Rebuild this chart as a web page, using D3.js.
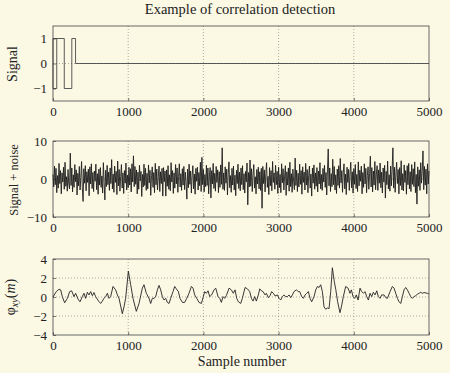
<!DOCTYPE html>
<html>
<head>
<meta charset="utf-8">
<script src="https://cdn.jsdelivr.net/npm/d3@7"></script>
<style>
  body { margin: 0; background: #fbf8e6; }
  svg { display: block; }
  text { font-family: "Liberation Serif", "DejaVu Serif", serif; fill: #222; }
</style>
</head>
<body>
<div id="chart"></div>
<script>
// x ticks shared by all three panels
let xTicks = [0, 1000, 2000, 3000, 4000, 5000];

// panel 1: transmitted signal (corner points of the pulse train)
let sigT = [50, 50, 0, 0, 150, 150, 250, 250, 300, 300, 5000];
let sigV = [1, -1, -1, 1, 1, -1, -1, 1, 1, 0, 0];

// panel 2: signal + noise, one value read every 10 samples
let noiseStep = 10;
let noiseV = [
  1.2, -2.1, 3.4, -1.5, 2.8, -3.6, 0.9, -2.4, 4.1, -1.2, 2.2, -3.9, 1.6, -0.8, 3.1, -2.7, 4.4, -1.9, 0.6, -3.2, 2.5, -1.4, -2.6, 6.8, -1.7,
  2.9, -3.4, 1.1, -2.2, 3.8, -0.7, 2.4, -4.2, 1.5, -1.8, 3.3, -2.9, 0.4, 4.6, -2.3, -5.9, 2.7, -1.1, 3.5, -3.1, 1.9, -0.9, 2.6, -4.4, 3.2,
  -1.3, 4.0, -2.5, 1.7, -3.3, 2.1, -0.6, 3.9, -2.8, 1.4, -4.0, 2.6, -1.6, 3.0, -2.2, 0.8, -3.7, 4.3, -1.0, -5.5, 2.3, -2.0, 3.6, -1.5, 1.8,
  -3.0, 2.9, -1.2, 5.1, -2.6, 1.3, -3.5, 3.4, -0.9, 2.0, -4.1, 4.7, -1.8, 2.5, -3.2, 0.7, 3.8, -2.4, 1.6, -3.8, 2.2, -1.1, 4.2, -2.9, 1.0,
  -2.3, 3.1, -1.6, 2.7, -3.4, 4.0, -0.8, 6.1, -2.0, 3.3, -1.4, 2.4, -3.9, 1.8, -2.7, 3.6, -0.5, 2.0, -4.6, 1.2, -2.1, 3.9, -1.7, 2.8, -3.0,
  1.5, -2.6, 3.7, -1.0, 2.3, -4.3, 0.9, 3.2, -2.2, 1.7, -3.6, 4.1, -1.5, 2.6, -2.9, 0.6, 3.4, -3.3, 1.9, -1.2, 2.8, -4.5, 3.0, -0.7, 2.1,
  -4.5, 2.4, -1.9, 3.5, -2.7, 1.1, -3.1, 4.3, -0.8, 2.2, -3.8, 1.6, -2.4, 3.8, -1.3, 2.9, -3.5, 0.7, 4.0, -2.1, 1.4, -3.0, 2.7, -1.6, 3.3,
  -2.8, 1.8, -1.0, -5.3, 2.6, -2.3, 3.9, -1.4, 2.1, -3.7, 0.9, 3.5, -2.6, 1.3, -4.0, 2.8, -0.6, 3.1, -2.9, 1.7, -1.8, 4.4, -3.3, 5.7, -1.5,
  2.5, -3.4, 1.2, -2.0, 3.6, -1.7, 2.9, -3.9, 0.8, 3.0, -5.0, 2.2, -1.3, 4.1, -2.5, 1.5, -3.2, 3.3, -0.9, 2.4, -3.6, 1.9, -2.2, 3.7, -1.4,
  8.2, -2.7, 1.6, -3.0, 3.2, -1.1, 2.6, -4.2, 1.3, 4.5, -2.3, 0.9, -3.5, 2.8, -1.6, 3.4, -2.9, 1.0, -4.4, 2.3, -1.2, 3.9, -2.5, 1.8, -3.1,
  2.9, -1.5, 3.5, -2.8, 1.4, -3.7, 2.0, -0.8, 4.2, -6.8, 1.7, -2.1, 5.0, -1.9, 2.7, -3.3, 1.1, 3.8, -2.4, 0.6, -3.9, 2.5, -1.3, 3.1, -2.6,
  1.9, -3.0, 2.8, -7.7, 3.3, -1.2, 2.4, -3.4, 1.5, 4.3, -2.2, 0.7, -4.1, 3.0, -1.8, 2.2, -3.1, 4.6, -0.9, 1.6, -2.7, 3.6, -1.5, 2.0, -3.8,
  3.1, -2.3, 1.2, -3.6, 4.0, -1.0, 2.7, -2.9, 0.8, 3.5, -4.3, 1.9, -1.6, 2.9, -3.2, 4.4, -2.0, 1.4, -3.5, 2.6, -0.7, -2.8, 5.5, -1.7, 2.3,
  -3.3, 1.5, -2.1, 3.9, -1.4, 2.2, -4.0, 3.2, -0.9, 1.8, -2.9, 4.1, -1.6, 2.5, -3.6, 1.0, 3.4, -2.4, 1.3, -4.5, 2.9, -1.1, 3.7, -2.7, 1.6,
  -1.9, 3.0, -3.4, 2.1, -1.3, 4.3, -2.6, 1.2, -3.0, 2.8, -0.8, 3.6, -2.2, 1.7, -4.2, 2.4, 7.9, -1.8, 2.9, -3.3, 1.4, -2.0, 5.2, -1.5, 3.3,
  -2.9, 1.1, -3.8, 2.6, -1.7, 3.5, -2.4, 5.4, -1.0, 2.2, -3.5, 1.8, 4.0, -2.6, 1.3, -4.1, 3.1, -0.9, 2.5, -3.0, 1.6, 4.4, -2.3, 1.9, -3.7,
  2.7, -1.4, 3.8, -2.5, 1.2, -3.3, 4.5, -1.8, 2.3, -0.6, 3.4, -3.9, 1.7, -2.2, 4.0, -1.3, 2.8, -3.6, 1.0, 3.2, -2.7, 1.5, 6.0, -2.1, 3.0,
  -3.4, 2.1, -1.6, 4.6, -2.8, 1.3, 3.5, -3.0, 2.4, -1.1, 4.2, -2.3, 1.8, -3.7, 2.9, -0.8, 3.6, -5.0, 2.0, -1.5, 4.7, -2.6, 1.1, -3.2, 3.4,
  -1.8, 2.6, 8.2, -2.4, 3.1, -3.5, 1.6, 4.4, -1.2, 2.5, -3.9, 3.0, -1.7, 4.8, -2.9, 1.4, -3.1, 3.7, -0.9, 2.2, -4.0, 3.5, -1.5, 4.1, -2.6,
  1.9, -3.3, 3.8, -1.4, 2.7, -2.0, 4.5, -3.6, 1.2, -6.6, 3.2, -1.9, 2.4, -3.0, 4.3, -1.1, 2.0, 7.4, -2.8, 3.3, -1.6, 2.6, -3.9, 4.0, -1.3,
  2.1
];

// panel 3: cross-correlation phi_xy(m)
let corrT = [0, 44, 80, 102, 124, 155, 191, 222, 248, 279, 301, 333, 359, 390, 412, 434, 457, 479, 501, 523, 545, 567,
  612, 634, 656, 678, 700, 723, 745, 767, 798, 833, 856, 878, 922, 944, 966, 1002, 1033, 1064, 1108, 1144, 1188, 1210,
  1241, 1277, 1299, 1321, 1343, 1366, 1388, 1410, 1432, 1454, 1476, 1499, 1521, 1543, 1565, 1596, 1618, 1640, 1667, 1689,
  1720, 1751, 1778, 1809, 1840, 1862, 1884, 1911, 1942, 1973, 1999, 2017, 2039, 2062, 2084, 2110, 2141, 2164, 2195, 2217,
  2239, 2261, 2283, 2305, 2341, 2372, 2398, 2421, 2443, 2465, 2496, 2518, 2554, 2585, 2616, 2638, 2660, 2682, 2704, 2731,
  2749, 2771, 2793, 2820, 2837, 2864, 2886, 2908, 2930, 2953, 2984, 3006, 3028, 3050, 3072, 3095, 3117, 3139, 3161, 3183,
  3205, 3236, 3263, 3281, 3307, 3329, 3352, 3374, 3396, 3418, 3440, 3471, 3494, 3516, 3538, 3560, 3582, 3604, 3627, 3649,
  3671, 3693, 3715, 3740, 3760, 3785, 3816, 3835, 3861, 3892, 3924, 3950, 3968, 3990, 4012, 4034, 4057, 4083, 4105, 4127,
  4150, 4172, 4194, 4216, 4238, 4260, 4283, 4305, 4327, 4349, 4371, 4402, 4425, 4447, 4482, 4513, 4535, 4558, 4580, 4602,
  4624, 4646, 4668, 4690, 4713, 4735, 4757, 4779, 4801, 4823, 4846, 4868, 4890, 4912, 4934, 4979, 5000];
let corrV = [0.0, 0.57, 0.82, 0.75, 0.04, -0.61, -0.14, 0.57, 0.65, 0.04, 0.39, -0.22, -0.5, 0.04, 0.39, -0.14, 0.5, 0.22, 0.57, 0.14, 0.47, 0.04,
  -0.5, -0.68, -0.43, -0.14, 0.04, 0.39, -0.14, 0.04, 1.11, 0.75, 0.22, -0.14, -1.76, -1.04, -0.14, 2.72, 1.29, -0.14, -1.51, -0.68, 0.93, 1.29,
  0.39, -0.14, -0.68, -0.14, -0.14, 0.04, 0.75, 1.22, 0.75, 0.04, -0.32, -0.14, -0.57, -0.68, -0.14, 0.57, 1.11, 0.86, 0.57, -0.14,
  -0.57, -0.57, -0.14, 0.39, 1.11, 0.93, 0.22, -0.14, -0.57, -0.68, 0.04, 0.57, 0.39, 0.65, 0.04, 0.22, 0.75, 0.93, 0.04, -0.14,
  -0.57, 0.04, -0.14, 0.14, 0.93, 0.75, 0.39, 0.75, -0.14, -0.5, -0.68, -0.14, 1.0, 0.86, 0.57, -0.14, -0.43, 0.04, -0.43, 0.22,
  0.86, 0.65, 0.57, 0.22, 0.39, -0.07, 0.14, 0.57, 0.39, 0.11, 0.22, -0.14, -0.32, 0.04, 0.22, 0.04, 0.04, 0.22, -0.07, 0.22,
  0.57, 0.75, 0.57, 0.57, 0.04, -0.14, 0.22, 0.39, 0.57, -0.14, -0.5, 0.04, 0.75, 1.11, 1.0, 1.29, 0.57, -1.04, -1.29, -1.15,
  -1.22, 0.57, 3.08, 1.65, 0.8, -0.5, -1.65, -1.04, 0.04, 1.11, 0.93, 0.39, 0.75, 0.04, -0.14, 0.22, -0.32, 0.93, 0.57, 0.39,
  0.57, 0.04, -0.32, 0.39, 0.04, 0.5, 0.22, 0.65, 0.04, -0.14, 0.22, 0.22, -0.07, -0.14, 0.57, 1.11, 0.93, 0.39, -0.14, -0.5,
  -0.68, 0.04, 0.75, 1.0, 0.75, 0.39, 0.04, -0.14, 0.04, 0.14, 0.29, 0.39, 0.5, 0.39, 0.47, 0.39, 0.3];

// y ticks per panel
let sigTicks = [-1, 0, 1];
let noiseTicks = [-10, 0, 10];
let corrTicks = [-4, -2, 0, 2, 4];

let width = 450, height = 373;
let left = 53, right = 429;
let fmt = d3.format("d");

let svg = d3.select("#chart").append("svg")
    .attr("width", width)
    .attr("height", height);

svg.append("rect")
    .attr("width", width)
    .attr("height", height)
    .attr("fill", "#fbf8e4");

let x = d3.scaleLinear().domain([0, 5000]).range([left, right]);

// title
svg.append("text")
    .attr("x", 240)
    .attr("y", 14)
    .attr("text-anchor", "middle")
    .style("font-size", "14.5px")
    .text("Example of correlation detection");

// draws one box with grid, ticks and labels; returns the y scale
function panel(top, bottom, domain, yTicks) {
    let y = d3.scaleLinear().domain(domain).range([bottom, top]);
    let g = svg.append("g");

    // dotted grid
    g.selectAll(".gx").data(xTicks.slice(1, -1)).enter().append("line")
        .attr("x1", d => x(d)).attr("x2", d => x(d))
        .attr("y1", top).attr("y2", bottom)
        .attr("stroke", "#777").attr("stroke-width", 0.6)
        .attr("stroke-dasharray", "1,2");
    g.selectAll(".gy").data(yTicks.slice(1, -1)).enter().append("line")
        .attr("x1", left).attr("x2", right)
        .attr("y1", d => y(d)).attr("y2", d => y(d))
        .attr("stroke", "#777").attr("stroke-width", 0.6)
        .attr("stroke-dasharray", "1,2");

    // axes with inward ticks
    let xa = g.append("g")
        .attr("transform", "translate(0," + bottom + ")")
        .call(d3.axisBottom(x).tickValues(xTicks).tickFormat(fmt).tickSizeInner(-3).tickSizeOuter(0).tickPadding(6));
    let ya = g.append("g")
        .attr("transform", "translate(" + left + ",0)")
        .call(d3.axisLeft(y).tickValues(yTicks).tickFormat(fmt).tickSizeInner(-3).tickSizeOuter(0).tickPadding(6));
    [xa, ya].forEach(a => {
        a.select(".domain").remove();
        a.selectAll("line").attr("stroke", "#444").attr("stroke-width", 0.7);
        a.selectAll("text").style("font-size", "13px").attr("fill", "#222")
            .style("font-family", "Liberation Serif, serif");
    });

    // box
    g.append("rect")
        .attr("x", left).attr("y", top)
        .attr("width", right - left).attr("height", bottom - top)
        .attr("fill", "none").attr("stroke", "#444").attr("stroke-width", 0.8);
    return y;
}

// panel 1
let y1 = panel(26, 101, [-1.5, 1.5], sigTicks);
svg.append("path")
    .datum(d3.zip(sigT, sigV))
    .attr("fill", "none").attr("stroke", "#333").attr("stroke-width", 0.8)
    .attr("d", d3.line().x(d => x(d[0])).y(d => y1(d[1])));

// panel 2
let y2 = panel(141, 217, [-10, 10], noiseTicks);
svg.append("path")
    .datum(noiseV)
    .attr("fill", "none").attr("stroke", "#1e1e1e").attr("stroke-width", 0.9)
    .attr("d", d3.line().x((d, i) => x(i * noiseStep)).y(d => y2(d)));

// panel 3
let y3 = panel(259, 335, [-4, 4], corrTicks);
svg.append("path")
    .datum(d3.zip(corrT, corrV))
    .attr("fill", "none").attr("stroke", "#222").attr("stroke-width", 0.9)
    .attr("d", d3.line().x(d => x(d[0])).y(d => y3(d[1])));

// axis labels
svg.append("text")
    .attr("transform", "translate(17,64) rotate(-90)")
    .attr("text-anchor", "middle")
    .style("font-size", "14px")
    .text("Signal");

svg.append("text")
    .attr("transform", "translate(18,180) rotate(-90)")
    .attr("text-anchor", "middle")
    .style("font-size", "12.5px")
    .text("Signal + noise");

let phi = svg.append("text")
    .attr("transform", "translate(15,297) rotate(-90)")
    .attr("text-anchor", "middle")
    .style("font-size", "14px");
phi.append("tspan").text("φ");
phi.append("tspan").attr("dy", 3).style("font-size", "10px").style("font-style", "italic").text("xy");
phi.append("tspan").attr("dy", -3).text("(");
phi.append("tspan").style("font-style", "italic").text("m");
phi.append("tspan").text(")");

svg.append("text")
    .attr("x", 242)
    .attr("y", 366)
    .attr("text-anchor", "middle")
    .style("font-size", "14px")
    .text("Sample number");
</script>
</body>
</html>
